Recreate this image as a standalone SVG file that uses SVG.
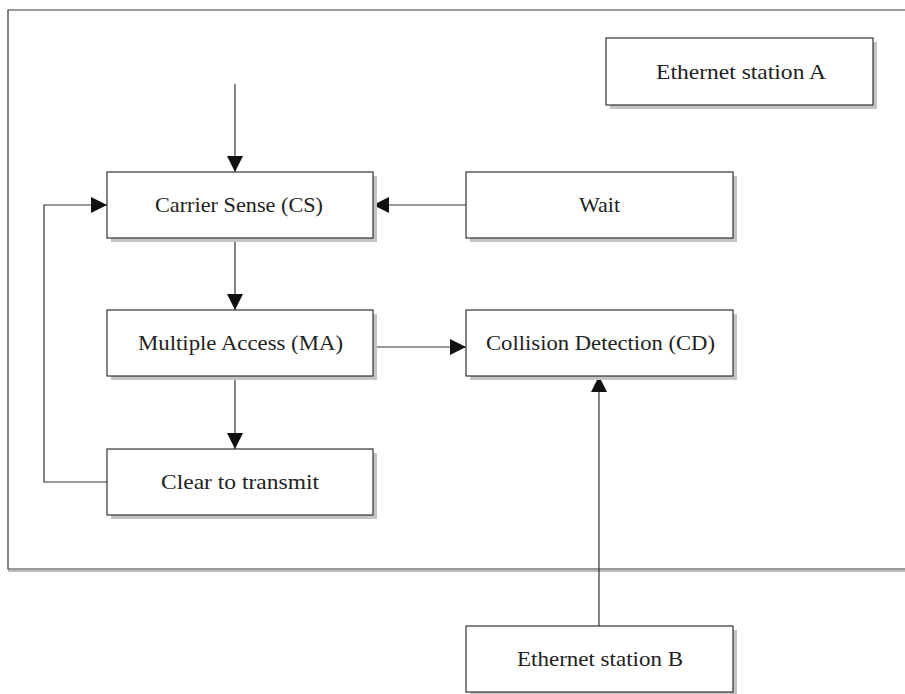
<svg xmlns="http://www.w3.org/2000/svg" width="905" height="694" viewBox="0 0 905 694">
<defs>
<style>
.box{fill:#fff;stroke:#333;stroke-width:1.2}
.sh{fill:#c4c4c4}
.lbl{font-family:"Liberation Serif","DejaVu Serif",serif;font-size:21px;fill:#222;text-anchor:middle;dominant-baseline:central}
.ln{fill:none;stroke:#333;stroke-width:1.2}
</style>
<marker id="ah" viewBox="0 0 10 10" refX="10" refY="5" markerWidth="16" markerHeight="16" markerUnits="userSpaceOnUse" orient="auto">
<path d="M0,0 L10,5 L0,10 z" fill="#111"/>
</marker>
</defs>
<rect width="905" height="694" fill="#fff"/>
<g id="frame">
<rect x="8" y="570" width="897" height="2" fill="#bbb"/>
<path class="ln" d="M906,10 H8 V569 H906"/>
</g>
<g id="connectors">
<line class="ln" x1="235" y1="84" x2="235" y2="172" marker-end="url(#ah)"/>
<line class="ln" x1="235" y1="238" x2="235" y2="310" marker-end="url(#ah)"/>
<line class="ln" x1="235" y1="376" x2="235" y2="449" marker-end="url(#ah)"/>
<path class="ln" d="M107,482 H44 V205 H107" marker-end="url(#ah)"/>
<line class="ln" x1="466" y1="205" x2="373" y2="205" marker-end="url(#ah)"/>
<line class="ln" x1="373" y1="347" x2="466" y2="347" marker-end="url(#ah)"/>
<line class="ln" x1="599" y1="626" x2="599" y2="376" marker-end="url(#ah)"/>
</g>
<g id="stationA">
<rect class="sh" x="610" y="42" width="267" height="67"/>
<rect class="box" x="606" y="38" width="267" height="67"/>
<text class="lbl" x="741" y="72" textLength="170" lengthAdjust="spacingAndGlyphs">Ethernet station A</text>
</g>
<g id="cs">
<rect class="sh" x="111" y="176" width="266" height="66"/>
<rect class="box" x="107" y="172" width="266" height="66"/>
<text class="lbl" x="239" y="205" textLength="168" lengthAdjust="spacingAndGlyphs">Carrier Sense (CS)</text>
</g>
<g id="wait">
<rect class="sh" x="470" y="176" width="267" height="66"/>
<rect class="box" x="466" y="172" width="267" height="66"/>
<text class="lbl" x="599.5" y="205" textLength="41" lengthAdjust="spacingAndGlyphs">Wait</text>
</g>
<g id="ma">
<rect class="sh" x="111" y="314" width="266" height="66"/>
<rect class="box" x="107" y="310" width="266" height="66"/>
<text class="lbl" x="240.5" y="343" textLength="205" lengthAdjust="spacingAndGlyphs">Multiple Access (MA)</text>
</g>
<g id="cd">
<rect class="sh" x="470" y="314" width="267" height="66"/>
<rect class="box" x="466" y="310" width="267" height="66"/>
<text class="lbl" x="600.5" y="343" textLength="229" lengthAdjust="spacingAndGlyphs">Collision Detection (CD)</text>
</g>
<g id="clear">
<rect class="sh" x="111" y="453" width="266" height="66"/>
<rect class="box" x="107" y="449" width="266" height="66"/>
<text class="lbl" x="240" y="482" textLength="158" lengthAdjust="spacingAndGlyphs">Clear to transmit</text>
</g>
<g id="stationB">
<rect class="sh" x="470" y="630" width="267" height="66"/>
<rect class="box" x="466" y="626" width="267" height="66"/>
<text class="lbl" x="600" y="659" textLength="166" lengthAdjust="spacingAndGlyphs">Ethernet station B</text>
</g>
</svg>
